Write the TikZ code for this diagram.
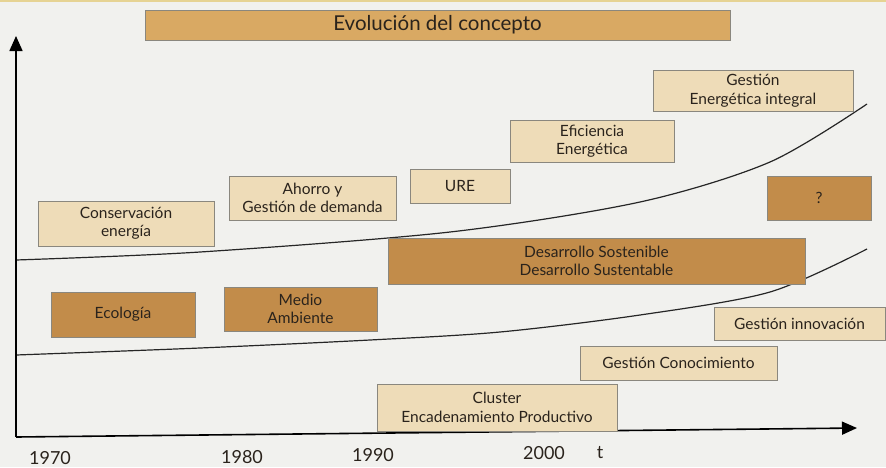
\documentclass[tikz,border=0pt]{standalone}
\usepackage{fontspec}
\setmainfont{Lato}
\usetikzlibrary{arrows.meta}
\definecolor{bg}{HTML}{F1F1EE}
\definecolor{lightbox}{HTML}{EEDCB8}
\definecolor{darkbox}{HTML}{C28C4A}
\definecolor{titlebox}{HTML}{D9A963}
\definecolor{edge}{HTML}{8A877E}
\definecolor{txt}{HTML}{2A231C}
\definecolor{strip}{HTML}{E6D393}
\tikzset{
  base/.style={draw=edge, line width=0.6pt, inner sep=0pt, align=center,
    text=txt, font=\fontsize{15.5}{18.5}\selectfont},
  light/.style={base, fill=lightbox},
  dark/.style={base, fill=darkbox},
  axis/.style={line width=1.6pt, -{Triangle[length=15pt,width=13pt]}},
  curve/.style={line width=1.2pt, black!85},
  year/.style={text=txt, font=\fontsize{18}{21}\selectfont, inner sep=0pt}
}
\begin{document}
\begin{tikzpicture}[x=1pt,y=-1pt]
\useasboundingbox (0,0) rectangle (886,467);
\fill[bg] (0,0) rectangle (886,467);
\fill[strip] (0,0) rectangle (886,1.5);
% curves
\draw[curve] plot[smooth] coordinates {(16,260) (200,252) (450,232) (640,202) (770,162) (867,104)};
\draw[curve] plot[smooth] coordinates {(16,355) (200,348) (370,340) (500,332) (640,315) (770,292) (867,249)};
% axes
\coordinate (o) at (16,437);
\coordinate (ytip) at (16,36);
\coordinate (xtip) at (857,428);
\draw[axis] (o) -- (ytip);
\draw[axis] (o) -- (xtip);
% title
\node[base, fill=titlebox, minimum width=585pt, minimum height=30pt,
  font=\fontsize{20.5}{24}\selectfont] (title) at (437.5,25) {Evolución del concepto};
% upper region boxes
\node[light, minimum width=176pt, minimum height=45pt] (cons) at (126,223.5) {Conservación\\energía};
\node[light, minimum width=167pt, minimum height=44pt] (ahorro) at (312.5,198) {Ahorro y\\Gestión de demanda};
\node[light, minimum width=100pt, minimum height=34pt] (ure) at (460,186) {URE};
\node[light, minimum width=164pt, minimum height=42pt] (efic) at (592,141) {Eficiencia\\Energética};
\node[light, minimum width=200pt, minimum height=41pt] (gei) at (753,90.5) {Gestión\\Energética integral};
\node[dark, minimum width=104pt, minimum height=44pt] (q) at (819,198) {?};
% middle region boxes
\node[dark, minimum width=417pt, minimum height=46pt] (desa) at (596.5,261) {Desarrollo Sostenible\\Desarrollo Sustentable};
\node[dark, minimum width=144pt, minimum height=45pt] (eco) at (123,314.5) {Ecología};
\node[dark, minimum width=153pt, minimum height=44pt] (medio) at (300.5,309) {Medio\\Ambiente};
% lower region boxes
\node[light, minimum width=171pt, minimum height=33pt] (ginn) at (799.5,323.5) {Gestión innovación};
\node[light, minimum width=197pt, minimum height=34pt] (gcon) at (678.5,363) {Gestión Conocimiento};
\node[light, minimum width=240pt, minimum height=47pt] (clus) at (497,407.5) {Cluster\\Encadenamiento Productivo};
% years
\node[year] (y70) at (50,458) {1970};
\node[year] (y80) at (242,457) {1980};
\node[year] (y90) at (373,455) {1990};
\node[year] (y00) at (544,453) {2000};
\node[year] (t) at (600,453) {t};
\end{tikzpicture}
\end{document}
